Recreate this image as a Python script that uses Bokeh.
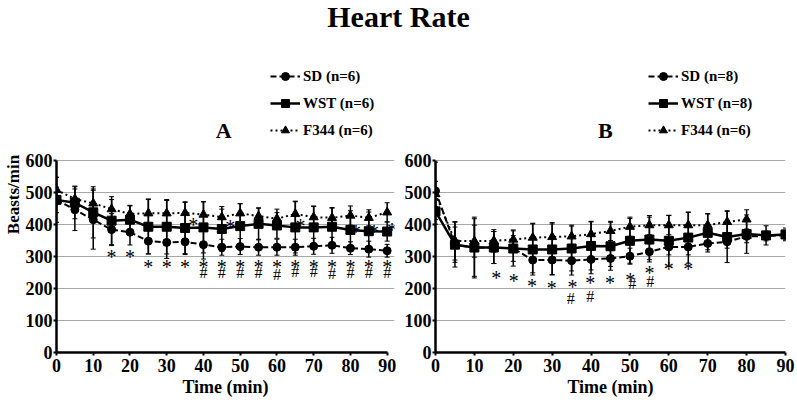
from bokeh.plotting import figure
from bokeh.models import (Range1d, ColumnDataSource, Whisker, TeeHead, Legend, LegendItem,
                          LabelSet, Label, Div, FixedTicker)
from bokeh.layouts import column, row
from bokeh.embed import file_html
from bokeh.resources import INLINE
from bokeh.core.properties import value

FONT = "Liberation Serif"

time = [0, 5, 10, 15, 20, 25, 30, 35, 40, 45, 50, 55, 60, 65, 70, 75, 80, 85, 90]

# Panel A
a_sd = [477, 446, 415, 384, 376, 348, 344, 346, 337, 329, 331, 329, 329, 329, 332, 335, 326, 323, 318]
a_sd_err = [70, 65, 92, 50, 40, 40, 50, 40, 45, 25, 25, 25, 25, 25, 25, 25, 20, 25, 20]
a_wst = [477, 468, 438, 412, 415, 393, 393, 389, 391, 386, 395, 402, 397, 391, 391, 393, 383, 379, 378]
a_wst_err = [40, 50, 80, 75, 45, 85, 85, 80, 80, 70, 70, 50, 40, 80, 65, 60, 60, 60, 30]
a_f344 = [508, 480, 466, 448, 433, 435, 435, 436, 431, 423, 435, 426, 418, 433, 423, 421, 428, 421, 438]
a_f344_err = [40, 40, 45, 30, 25, 45, 40, 35, 40, 25, 30, 25, 30, 40, 35, 30, 30, 25, 30]

# Panel B
b_sd = [505, 337, 328, 328, 325, 289, 289, 287, 291, 294, 301, 315, 330, 330, 341, 346, 363, 364, 367]
b_sd_err = [90, 55, 90, 50, 40, 40, 45, 45, 45, 25, 25, 25, 25, 25, 20, 20, 20, 15, 15]
b_wst = [441, 337, 328, 328, 325, 322, 322, 325, 333, 332, 349, 353, 349, 359, 374, 361, 370, 366, 369]
b_wst_err = [40, 70, 95, 50, 55, 80, 80, 70, 75, 75, 70, 70, 80, 80, 60, 80, 60, 30, 20]
b_f344_time = [0, 5, 10, 15, 20, 25, 30, 35, 40, 45, 50, 55, 60, 65, 70, 75, 80]
b_f344 = [495, 349, 348, 349, 353, 359, 361, 363, 370, 380, 393, 398, 398, 398, 398, 408, 416]
b_f344_err = [40, 60, 50, 35, 30, 45, 45, 35, 40, 30, 30, 30, 30, 40, 35, 35, 30]

# significance marks, panel A
a_mark_x = [15, 20, 25, 30, 35, 40, 45, 50, 55, 60, 65, 70, 75, 80, 85, 90,
            37.2, 47.3, 66.4, 81.5, 86.4, 91.3]
a_mark_y = [313, 313, 282, 282, 282, 284, 284, 284, 284, 282, 284, 284, 284, 284, 284, 284,
            415, 409, 412, 393, 393, 400]
a_hash_x = [40, 45, 50, 55, 60, 65, 70, 75, 80, 85, 90]
a_hash_y = [250, 250, 250, 250, 243, 252, 252, 248, 250, 250, 250]

# significance marks, panel B
b_mark_x = [15.6, 20.1, 24.8, 29.9, 35.2, 39.8, 44.9, 50.1, 55, 60, 65]
b_mark_y = [247, 240, 223, 218, 221, 232, 232, 242, 263, 278, 278]
b_hash_x = [34.8, 39.8, 50.6, 55.2]
b_hash_y = [169, 174, 216, 221]

y_ticks = [0, 100, 200, 300, 400, 500, 600]
x_ticks = [0, 10, 20, 30, 40, 50, 60, 70, 80, 90]

Y_TOP = 987.5  # frame extends above 600 to hold legend and panel letter


def make_panel(width, bl, br, x_end, series, marks, hashes, labels, letter, letter_x,
               ylabel, legend_x):
    p = figure(width=width, height=366, output_backend="svg", toolbar_location=None,
               x_range=Range1d(0, x_end), y_range=Range1d(0, Y_TOP),
               min_border_left=bl, min_border_right=br, min_border_top=0, min_border_bottom=50)
    p.outline_line_color = None
    p.xgrid.grid_line_color = None
    p.ygrid.grid_line_color = "#a8a8a8"
    p.ygrid.grid_line_width = 1
    p.yaxis.ticker = FixedTicker(ticks=y_ticks)
    p.xaxis.ticker = FixedTicker(ticks=x_ticks)
    p.yaxis.bounds = (0, 600)
    p.xaxis.bounds = (0, 90)
    for ax in (p.xaxis[0], p.yaxis[0]):
        ax.axis_line_width = 2.5
        ax.axis_line_color = "black"
        ax.major_tick_line_width = 2
        ax.major_tick_out = 3
        ax.major_tick_in = 0
        ax.minor_tick_line_color = None
        ax.major_label_text_font = FONT
        ax.major_label_text_font_style = "bold"
        ax.major_label_text_font_size = "18px"
        ax.major_label_text_color = "black"
        ax.axis_label_text_font = FONT
        ax.axis_label_text_font_style = "bold"
        ax.axis_label_text_font_size = "18px"
        ax.axis_label_text_color = "black"
    p.xaxis.major_label_standoff = 3
    p.yaxis.major_label_standoff = 1
    p.xaxis.axis_label = "Time (min)"
    p.xaxis.axis_label_standoff = 2
    if ylabel:
        p.yaxis.axis_label = ylabel
        p.yaxis.axis_label_standoff = 0
        p.yaxis.axis_label_text_font_size = "17px"

    items = []
    styles = [("circle", 8, "6 3", 2), ("square", 9, "solid", 2.5), ("triangle", 9, "2 3", 2)]
    for (t, v, e), lab, (mk, ms, dash, lw) in zip(series, labels, styles):
        src = ColumnDataSource(dict(t=t, v=v, up=[a + b for a, b in zip(v, e)],
                                    lo=[a - b for a, b in zip(v, e)]))
        p.add_layout(Whisker(base="t", upper="up", lower="lo", source=src,
                             line_color="black", line_width=1.5,
                             upper_head=TeeHead(size=5, line_width=1, line_color="black"),
                             lower_head=TeeHead(size=5, line_width=1, line_color="black")))
        r1 = p.line("t", "v", source=src, line_color="black", line_width=lw, line_dash=dash)
        r2 = p.scatter("t", "v", source=src, marker=mk, size=ms, fill_color="black",
                       line_color="black")
        items.append(LegendItem(label=lab, renderers=[r1, r2]))

    leg = Legend(items=items, location=(legend_x, 212), orientation="vertical",
                 label_text_font=FONT, label_text_font_style="bold", label_text_font_size="15px",
                 label_text_color="black", glyph_width=30, glyph_height=20, label_height=20,
                 spacing=7, padding=0, margin=0, label_standoff=3,
                 border_line_color=None, background_fill_alpha=0)
    p.add_layout(leg)

    ms = ColumnDataSource(dict(x=marks[0], y=marks[1], t=["*"] * len(marks[0])))
    p.add_layout(LabelSet(x="x", y="y", text="t", source=ms, text_align="center",
                          text_baseline="middle", text_font=value(FONT),
                          text_font_size="20px", text_color="black", y_offset=-5))
    hs = ColumnDataSource(dict(x=hashes[0], y=hashes[1], t=["#"] * len(hashes[0])))
    p.add_layout(LabelSet(x="x", y="y", text="t", source=hs, text_align="center",
                          text_baseline="middle", text_font=value(FONT),
                          text_font_size="16px", text_color="black"))
    p.add_layout(Label(x=letter_x, y=694, text=letter, text_align="center",
                       text_baseline="middle", text_font=FONT, text_font_style="bold",
                       text_font_size="22px", text_color="black"))
    return p


pA = make_panel(398, 52, 4, 92,
                [(time, a_sd, a_sd_err), (time, a_wst, a_wst_err), (time, a_f344, a_f344_err)],
                (a_mark_x, a_mark_y), (a_hash_x, a_hash_y),
                ["SD (n=6)", "WST (n=6)", "F344 (n=6)"], "A", 45.5, "Beasts/min", 214)
pB = make_panel(399, 37, 12, 90,
                [(time, b_sd, b_sd_err), (time, b_wst, b_wst_err), (b_f344_time, b_f344, b_f344_err)],
                (b_mark_x, b_mark_y), (b_hash_x, b_hash_y),
                ["SD (n=8)", "WST (n=8)", "F344 (n=6)"], "B", 43.7, None, 213)

title = Div(text="Heart Rate", width=797, height=36, margin=(0, 0, 0, 0),
            styles={"text-align": "center", "font-family": FONT, "font-weight": "bold",
                    "font-size": "30px", "line-height": "33px", "color": "black",
                    "width": "797px", "height": "36px"})

layout = column(title, row(pA, pB, spacing=0), spacing=0)
open("out.html", "w").write(file_html(layout, INLINE))
